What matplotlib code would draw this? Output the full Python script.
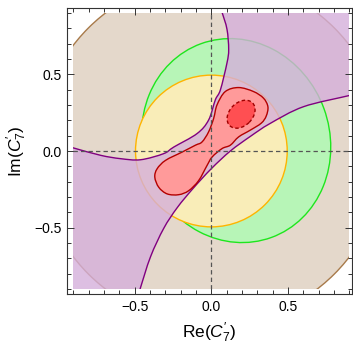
import numpy as np
import matplotlib
matplotlib.use("Agg")
import matplotlib.pyplot as plt
from matplotlib.path import Path
from matplotlib.patches import PathPatch, Circle, Ellipse, Rectangle
from matplotlib.ticker import MultipleLocator

plt.rcParams['font.family'] = ['Liberation Sans', 'DejaVu Sans']
plt.rcParams['mathtext.fontset'] = 'custom'
plt.rcParams['mathtext.rm'] = 'Liberation Sans'
plt.rcParams['mathtext.it'] = 'Liberation Sans:italic'

# plotting window of the scan
BOX = 0.9

# outer bound: circle around the origin
outer_radius = 1.135
# inner bound: circle around the origin
inner_radius = 0.495

# green bound: tilted ellipse (center, full width, full height, angle in deg)
green_center = (0.162, 0.068)
green_width, green_height, green_angle = 1.219, 1.345, 20

# purple band: upper and lower edges
band_upper_x = [-0.95, -0.900, -0.723, -0.592, -0.462, -0.311, -0.245, -0.093, -0.018,
                0.026, 0.059, 0.102, 0.113, 0.102, 0.070, 0.055]
band_upper_y = [0.035, 0.020, -0.028, -0.050, -0.057, -0.017, 0.026, 0.114, 0.202,
                0.334, 0.399, 0.575, 0.663, 0.794, 0.904, 0.95]
band_lower_x = [-0.48, -0.465, -0.397, -0.311, -0.223, -0.12, 0.0, 0.124, 0.254, 0.384,
                0.601, 0.90, 0.95]
band_lower_y = [-0.95, -0.90, -0.69, -0.505, -0.37, -0.245, -0.115, 0.0, 0.095, 0.18,
                0.289, 0.362, 0.378]

# combined fit, 2 sigma contour
fit_x = [0.178, 0.275, 0.340, 0.369, 0.358, 0.326, 0.254, 0.178, 0.124, 0.070, 0.005,
         -0.028, -0.083, -0.148, -0.213, -0.288, -0.343, -0.369, -0.354, -0.299, -0.191,
         -0.104, -0.061, -0.018, 0.015, 0.037, 0.091]
fit_y = [0.414, 0.388, 0.345, 0.289, 0.228, 0.182, 0.136, 0.092, 0.038, 0.016, -0.039,
         -0.094, -0.193, -0.259, -0.285, -0.280, -0.237, -0.171, -0.116, -0.061, -0.007,
         0.038, 0.059, 0.125, 0.213, 0.301, 0.388]

# combined fit, 1 sigma contour
core_center = (0.194, 0.240)
core_width, core_height, core_angle = 0.21, 0.15, 45


def spline_segments(xs, ys, closed=False):
    # Catmull-Rom through the points, written as cubic Bezier pieces
    p = np.column_stack([xs, ys])
    n = len(p)
    verts, codes = [], []
    for i in range(n if closed else n - 1):
        p0 = p[(i - 1) % n] if (closed or i > 0) else p[i]
        p1 = p[i]
        p2 = p[(i + 1) % n]
        p3 = p[(i + 2) % n] if (closed or i + 2 < n) else p2
        verts += [p1 + (p2 - p0) / 6, p2 - (p3 - p1) / 6, p2]
        codes += [Path.CURVE4] * 3
    return p[0], verts, codes


def spline_path(xs, ys, closed=False):
    start, verts, codes = spline_segments(xs, ys, closed)
    verts = [start] + verts
    codes = [Path.MOVETO] + codes
    if closed:
        verts.append(start)
        codes.append(Path.CLOSEPOLY)
    return Path(verts, codes)


def band_path():
    s1, v1, c1 = spline_segments(band_upper_x, band_upper_y)
    s2, v2, c2 = spline_segments(band_lower_x[::-1], band_lower_y[::-1])
    verts = [s1] + v1 + [(0.95, 0.95), s2] + v2 + [(-0.95, -0.95), s1]
    codes = ([Path.MOVETO] + c1 + [Path.LINETO, Path.LINETO] + c2
             + [Path.LINETO, Path.CLOSEPOLY])
    return Path(verts, codes)


fig = plt.figure(figsize=(3.53, 3.45), dpi=100)
ax = fig.add_axes([0.1907, 0.1478, 0.8057, 0.829])

clip = Rectangle((-BOX, -BOX), 2 * BOX, 2 * BOX, transform=ax.transData)

layers = [
    Circle((0, 0), outer_radius, facecolor='#e4d8cb', edgecolor='#a87a4a', lw=1.0),
    Ellipse(green_center, green_width, green_height, angle=green_angle,
            facecolor='#b7f5b7', edgecolor='#1ee61e', lw=1.0),
    Circle((0, 0), inner_radius, facecolor='#f9edb8', edgecolor='#ffb400', lw=1.0),
    PathPatch(band_path(), facecolor='#d5afdb', alpha=0.8, edgecolor='none'),
    PathPatch(spline_path(band_upper_x, band_upper_y), fill=False,
              edgecolor='#800080', lw=1.0),
    PathPatch(spline_path(band_lower_x, band_lower_y), fill=False,
              edgecolor='#800080', lw=1.0),
    PathPatch(spline_path(fit_x, fit_y, closed=True), facecolor='#ff9a9a',
              edgecolor='#b40000', lw=1.0),
    Ellipse(core_center, core_width, core_height, angle=core_angle,
            facecolor='#ff4f52', edgecolor='#a00000', lw=1.0, ls=(0, (2.5, 1.8))),
]
for patch in layers:
    ax.add_patch(patch)
    patch.set_clip_path(clip)

# reference lines through the SM point
ax.plot([-BOX, BOX], [0, 0], color='#555555', lw=0.9, ls=(0, (3.5, 2.5)))
ax.plot([0, 0], [-BOX, BOX], color='#555555', lw=0.9, ls=(0, (3.5, 2.5)))

ax.set_xlim(-0.94, 0.916)
ax.set_ylim(-0.933, 0.933)

ax.xaxis.set_major_locator(MultipleLocator(0.5))
ax.yaxis.set_major_locator(MultipleLocator(0.5))
ax.xaxis.set_minor_locator(MultipleLocator(0.1))
ax.yaxis.set_minor_locator(MultipleLocator(0.1))
ax.xaxis.set_major_formatter(plt.FuncFormatter(lambda v, _: f'{v:.1f}'.replace('-', '\u2212')))
ax.yaxis.set_major_formatter(plt.FuncFormatter(lambda v, _: f'{v:.1f}'.replace('-', '\u2212')))
ax.tick_params(which='both', direction='in', top=True, right=True, color='#333333',
               labelsize=10, width=0.7)
ax.tick_params(which='major', length=5, pad=4)
ax.tick_params(which='minor', length=3)
for sp in ax.spines.values():
    sp.set_color('#333333')
    sp.set_linewidth(0.8)

ax.set_xlabel(r'Re$(C^{\prime}_{7})$', fontsize=12.5, labelpad=5)
ax.set_ylabel(r'Im$(C^{\prime}_{7})$', fontsize=12.5, labelpad=4)

fig.savefig('out.png', dpi=100)
